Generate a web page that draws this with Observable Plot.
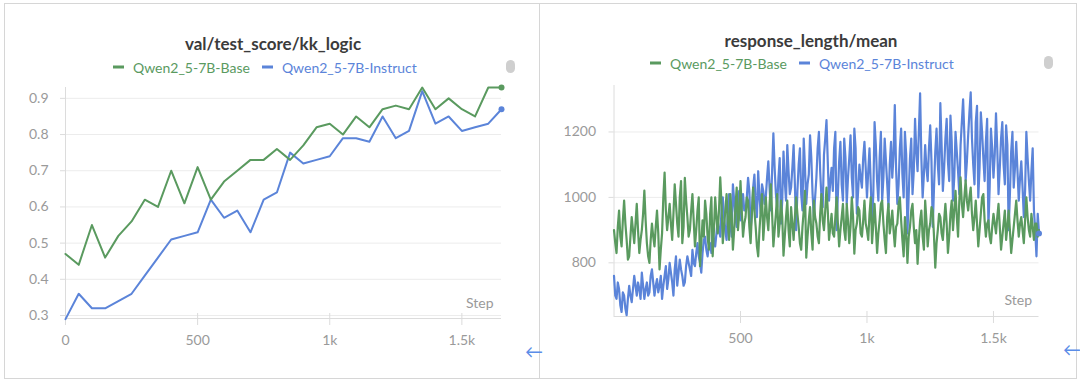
<!DOCTYPE html>
<html><head><meta charset="utf-8">
<script src="https://cdn.jsdelivr.net/npm/d3@7"></script>
<script src="https://cdn.jsdelivr.net/npm/@observablehq/plot@0.6"></script>
<style>
body{margin:0;width:1080px;height:383px;background:#fff;position:relative;overflow:hidden;font-family:Lato,"Open Sans",sans-serif}
.panel{position:absolute;border:1px solid #d6d6d6;box-sizing:border-box}
.title{position:absolute;font-weight:bold;font-size:17px;color:#3b3b3b;transform:translate(-50%,-50%);white-space:nowrap}
.legend{position:absolute;font-size:14px;white-space:nowrap;transform:translateY(-50%);display:flex;align-items:center}
.dash{display:inline-block;width:11px;height:2.5px;margin-right:9px}
.pill{position:absolute;width:9px;height:13px;border-radius:4.5px;background:#cfcfcf}
.arrow{position:absolute;color:#5b8de8;font-size:18px;line-height:18px}
.chart{position:absolute;top:78px}
</style></head><body>
<div class="panel" style="left:4px;top:3px;width:536px;height:376px"></div>
<div class="panel" style="left:539px;top:3px;width:538px;height:376px"></div>

<div class="title" style="left:273px;top:43px">val/test_score/kk_logic</div>
<div class="legend" style="left:113px;top:67px" id="legL"></div>
<div class="pill" style="left:506px;top:60px"></div>

<div class="title" style="left:811px;top:40px">response_length/mean</div>
<div class="legend" style="left:650px;top:63px" id="legR"></div>
<div class="pill" style="left:1044px;top:56px"></div>

<div class="chart" id="left" style="left:0px"></div>
<div class="chart" id="right" style="left:540px"></div>
<div class="arrow" style="left:525px;top:342px">←</div>
<div class="arrow" style="left:1063px;top:340px">←</div>

<script>
// ---------- data ----------
const seriesNames = ["Qwen2_5-7B-Base", "Qwen2_5-7B-Instruct"];
const seriesColors = ["#5a9a5f", "#5b84d9"];

// val/test_score/kk_logic
const scoreSteps = [0,50,100,150,200,250,300,350,400,450,500,550,600,650,700,750,800,850,900,950,1000,1050,1100,1150,1200,1250,1300,1350,1400,1450,1500,1550,1600,1650];
const scoreBase = [0.47,0.44,0.55,0.46,0.52,0.56,0.62,0.60,0.70,0.61,0.71,0.62,0.67,0.70,0.73,0.73,0.76,0.73,0.77,0.82,0.83,0.80,0.85,0.82,0.87,0.88,0.87,0.93,0.87,0.90,0.87,0.85,0.93,0.93];
const scoreInstruct = [0.29,0.36,0.32,0.32,0.34,0.36,0.41,0.46,0.51,0.52,0.53,0.62,0.57,0.59,0.53,0.62,0.64,0.75,0.72,0.73,0.74,0.79,0.79,0.78,0.85,0.79,0.81,0.92,0.83,0.85,0.81,0.82,0.83,0.87];
const scoreTicksX = [0,500,1000,1500];
const scoreTicksY = [0.3,0.4,0.5,0.6,0.7,0.8,0.9];

// response_length/mean (one value per 5 steps, 0..1680)
const respBase = [
 900,860,830,910,960,880,850,930,990,920,870,810,820,880,940,900,860,920,980,900,
 830,870,900,950,1021,930,860,820,800,870,920,880,850,910,960,890,780,840,890,1000,
 1076,960,900,940,980,920,870,950,1040,980,920,880,1000,1050,860,910,1060,990,940,880,
 900,960,1010,930,850,900,960,1000,790,860,930,880,990,950,880,840,950,1000,820,900,
 1000,940,890,960,1061,980,860,910,960,1010,920,870,1010,950,840,900,970,1030,900,950,
 1050,960,880,920,940,1000,990,910,860,950,1030,960,910,850,820,900,960,1010,870,930,
 1000,940,900,980,1040,950,850,900,950,1010,880,920,990,940,822,880,940,990,900,850,
 970,920,870,940,1000,950,910,860,840,910,960,1020,816,880,930,970,890,840,990,940,
 920,880,860,950,1010,930,900,960,1030,960,870,910,950,890,880,940,1000,920,850,900,
 940,980,900,870,980,930,860,910,1000,940,828,900,920,970,960,890,880,930,990,920,
 900,870,950,1000,860,920,980,910,830,890,930,980,990,920,870,830,940,980,890,920,
 960,900,850,910,920,980,1000,930,870,820,940,890,800,880,910,960,980,910,860,900,
 797,870,930,960,880,840,990,930,850,900,920,970,960,880,785,860,900,950,940,890,
 870,930,980,920,830,880,950,990,900,960,1020,940,880,990,1061,980,940,1000,1052,990,
 960,1000,1030,950,900,940,990,920,850,900,950,1000,1010,930,880,920,930,880,860,910,
 950,920,890,940,980,910,840,880,920,960,870,910,960,900,830,870,910,950,990,930,
 880,920,940,900,860,930,1000,940,900,880,950,910,870,920,920,880,900];
const respInstruct = [
 760,700,690,740,720,670,650,710,700,660,640,690,730,700,680,720,760,730,700,740,
 720,690,770,730,690,720,740,700,710,760,780,740,700,730,750,710,730,760,690,730,
 760,790,720,750,800,770,740,700,780,820,730,770,810,780,760,730,740,790,820,800,
 780,760,840,800,790,830,860,820,800,770,830,870,880,840,820,850,860,830,900,870,
 850,890,930,900,880,960,1000,940,900,870,960,1010,920,880,1040,990,940,910,990,1020,
 930,970,1010,960,960,1000,1060,1020,900,950,1030,1070,980,940,1080,1000,950,1040,1020,980,
 1000,1060,1110,1030,960,1080,1196,1090,1010,970,1060,1120,920,990,1140,1050,990,1160,1080,1010,
 1030,1090,1160,1040,900,1020,1100,1150,1010,960,1180,1090,980,1040,1070,1190,1120,1010,940,1000,
 1060,1150,1200,1080,1000,970,1130,1180,1236,1110,990,1050,1090,1020,1150,1200,900,1010,1110,1170,
 1040,990,1180,1120,980,1060,1120,1190,1060,1000,1210,1150,950,1020,1100,1060,1030,1120,1170,1090,
 1000,1080,1150,1040,920,1010,1230,1160,1050,990,1120,1200,990,1060,1180,1110,1040,970,1100,1170,
 1060,1130,1282,1090,980,1040,1150,1210,1070,1000,1200,1130,890,1010,1120,1180,1010,1080,1240,1140,
 1080,1200,1318,1120,1000,1070,1160,1090,1050,1150,1220,1110,910,1030,1140,1210,1100,1040,1288,1160,
 1020,1090,1180,1240,1110,1050,1250,1170,990,1060,1200,1140,1080,1010,1160,1230,1300,1190,1050,1110,
 1190,1260,1321,1180,1100,1040,1230,1280,1000,1090,1260,1200,1120,1050,1170,1240,910,1030,1210,1150,
 1060,1130,1257,1150,1010,1090,1180,1230,1100,1040,1220,1160,900,1010,1140,1200,1030,1090,1170,1080,
 990,1060,1110,1030,940,1020,1200,1120,1050,990,1080,1150,960,900,820,950,890];
const respStepSize = 5;
const respTicksX = [500,1000,1500];
const respTicksY = [800,1000,1200];

// ---------- legends ----------
for (const id of ["legL","legR"]) {
  const el = document.getElementById(id);
  seriesNames.forEach((n,i)=>{
    const item = document.createElement("span");
    item.style.display="inline-flex"; item.style.alignItems="center";
    item.style.marginRight = i===0 ? "12px" : "0";
    item.style.color = seriesColors[i];
    item.innerHTML = `<span class="dash" style="background:${seriesColors[i]}"></span>${n}`;
    el.appendChild(item);
  });
}

const fmtK = d => d >= 1000 ? (d/1000) + "k" : String(d);
const axisGray = "#dcdcdc", textGray = "#9a9a9a", gridGray = "#ececec";

// ---------- left chart ----------
const scoreData = scoreSteps.map((s,i)=>({step:s, base:scoreBase[i], instruct:scoreInstruct[i]}));
const scoreLast = scoreData[scoreData.length-1];
const yMinL = 0.2917;
const left = Plot.plot({
  width:540, height:300, marginLeft:65, marginRight:39, marginTop:9, marginBottom:60,
  style:{fontFamily:"Lato, sans-serif", fontSize:"14px", background:"transparent", overflow:"visible"},
  x:{domain:[0,1650]},
  y:{domain:[yMinL,0.93]},
  marks:[
    Plot.gridY(scoreTicksY,{stroke:gridGray, strokeOpacity:1}),
    Plot.ruleX([0],{stroke:axisGray}),
    Plot.ruleY([yMinL],{stroke:axisGray}),
    Plot.axisY(scoreTicksY,{tickSize:5, tickPadding:12, stroke:axisGray, fill:textGray, tickFormat:d=>d.toFixed(1), label:null}),
    Plot.axisX(scoreTicksX,{tickSize:12, dy:-5, tickPadding:10, stroke:axisGray, fill:textGray, tickFormat:fmtK, label:null}),
    Plot.text(["Step"],{frameAnchor:"bottom-right", dx:-8, dy:-11, textAnchor:"end", fill:textGray, fontSize:14}),
    Plot.line(scoreData,{x:"step", y:"instruct", stroke:seriesColors[1], strokeWidth:2}),
    Plot.line(scoreData,{x:"step", y:"base", stroke:seriesColors[0], strokeWidth:2}),
    Plot.dot([scoreLast],{x:"step", y:"instruct", r:3, fill:seriesColors[1]}),
    Plot.dot([scoreLast],{x:"step", y:"base", r:3, fill:seriesColors[0]})
  ]
});
document.getElementById("left").appendChild(left);

// ---------- right chart ----------
const respData = respBase.map((v,i)=>({step:i*respStepSize, base:v, instruct:respInstruct[i]}));
const respLast = respData[respData.length-1];
const yMinR = 636;
const right = Plot.plot({
  width:540, height:300, marginLeft:73.5, marginRight:41.5, marginTop:7, marginBottom:62,
  style:{fontFamily:"Lato, sans-serif", fontSize:"14px", background:"transparent", overflow:"visible"},
  x:{domain:[0,1680]},
  y:{domain:[yMinR,1342]},
  marks:[
    Plot.gridY(respTicksY,{stroke:gridGray, strokeOpacity:1}),
    Plot.ruleX([0],{stroke:axisGray}),
    Plot.ruleY([yMinR],{stroke:axisGray}),
    Plot.axisY(respTicksY,{tickSize:5, tickPadding:13, stroke:axisGray, fill:textGray, tickFormat:d=>String(d), label:null}),
    Plot.axisX(respTicksX,{tickSize:12, dy:-5, tickPadding:10, stroke:axisGray, fill:textGray, tickFormat:fmtK, label:null}),
    Plot.text(["Step"],{frameAnchor:"bottom-right", dx:-7, dy:-12, textAnchor:"end", fill:textGray, fontSize:14}),
    Plot.line(respData,{x:"step", y:"instruct", stroke:seriesColors[1], strokeWidth:2.2}),
    Plot.line(respData,{x:"step", y:"base", stroke:seriesColors[0], strokeWidth:2.2}),
    Plot.dot([respLast],{x:"step", y:"instruct", r:3, fill:seriesColors[1]})
  ]
});
document.getElementById("right").appendChild(right);
</script>
</body></html>
